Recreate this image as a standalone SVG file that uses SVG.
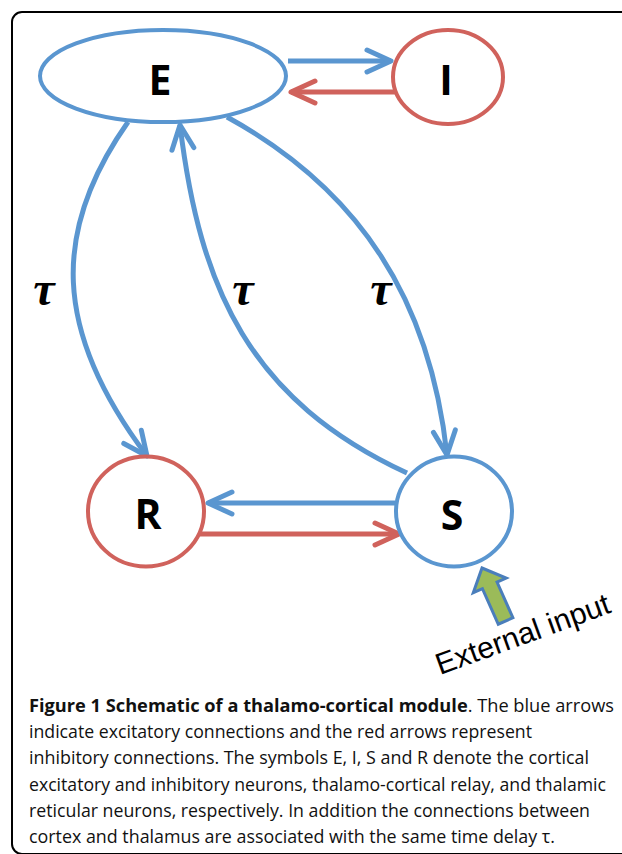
<svg xmlns="http://www.w3.org/2000/svg" width="622" height="854" viewBox="0 0 622 854">
<style>
.bl{fill:none;stroke:#5a96d0;stroke-width:4}
.rd{fill:none;stroke:#d0625c;stroke-width:4}
.cb{fill:none;stroke:#5a96d0;stroke-width:5}
.cr{fill:none;stroke:#d0625c;stroke-width:5}
.lbl{font-family:"Open Sans","Liberation Sans",sans-serif;font-weight:bold;font-size:41px;fill:#000;text-anchor:middle}
.tau{font-family:"Liberation Serif",serif;font-weight:bold;font-style:italic;font-size:48px;fill:#000;text-anchor:middle}
.cap{font-family:"Open Sans","Liberation Sans",sans-serif;font-size:18.5px;fill:#111}
</style>
<defs>
<marker id="mb" markerUnits="userSpaceOnUse" markerWidth="40" markerHeight="40" viewBox="-35 -20 40 40" refX="0" refY="0" orient="auto" overflow="visible">
<path d="M-24,-11 L0,0 L-24,11" fill="none" stroke="#5a96d0" stroke-width="5" stroke-linecap="round" stroke-linejoin="round"/>
</marker>
<marker id="mr" markerUnits="userSpaceOnUse" markerWidth="40" markerHeight="40" viewBox="-35 -20 40 40" refX="0" refY="0" orient="auto" overflow="visible">
<path d="M-24,-11 L0,0 L-24,11" fill="none" stroke="#d0625c" stroke-width="5" stroke-linecap="round" stroke-linejoin="round"/>
</marker>
</defs>
<rect x="0" y="0" width="622" height="854" fill="#fff"/>
<path id="frame" d="M630,854 L22,854 A10,10 0 0 1 12,844 L12,22 A10,10 0 0 1 22,12 L630,12" fill="none" stroke="#000" stroke-width="2"/>

<g id="connectors">
<path class="cb" d="M288,61 L391,61" marker-end="url(#mb)"/>
<path class="cr" d="M395,92 L291,92" marker-end="url(#mr)"/>
<path class="cb" d="M395,503 L208,503" marker-end="url(#mb)"/>
<path class="cr" d="M200,534 L399,534" marker-end="url(#mr)"/>
<path class="cb" d="M128,122 C52,230 52,330 147,456" marker-end="url(#mb)"/>
<path class="cb" d="M407,473 C250,400 200,290 180,125" marker-end="url(#mb)"/>
<path class="cb" d="M227,117 C360,190 430,300 447,455" marker-end="url(#mb)"/>
</g>

<g id="node-E">
<ellipse class="bl" cx="163" cy="76" rx="123" ry="46"/>
<text class="lbl" x="160" y="95">E</text>
</g>
<g id="node-I">
<ellipse class="rd" cx="448" cy="77" rx="55" ry="47"/>
<text class="lbl" x="446" y="95">I</text>
</g>
<g id="node-R">
<ellipse class="rd" cx="146" cy="511.5" rx="58" ry="55"/>
<text class="lbl" x="148" y="529">R</text>
</g>
<g id="node-S">
<ellipse class="bl" cx="454" cy="511.5" rx="58" ry="55"/>
<text class="lbl" x="452" y="530">S</text>
</g>

<g id="delays">
<text class="tau" x="44" y="305">τ</text>
<text class="tau" x="243" y="305">τ</text>
<text class="tau" x="381" y="305">τ</text>
</g>

<g id="external-input">
<path transform="translate(482,568) rotate(-24)" d="M0,0 L18,19 L8,19 L8,58 L-8,58 L-8,19 L-18,19 Z" fill="#9bbb59" stroke="#4a7ebb" stroke-width="3" stroke-linejoin="miter"/>
<text transform="translate(440,675) rotate(-20)" font-family="Liberation Sans, Arial, sans-serif" font-size="30" fill="#000">External input</text>
</g>

<g id="caption">
<text class="cap" x="29" y="712" textLength="585" lengthAdjust="spacingAndGlyphs"><tspan font-weight="bold">Figure 1 Schematic of a thalamo-cortical module</tspan>. The blue arrows</text>
<text class="cap" x="29" y="738" textLength="503" lengthAdjust="spacingAndGlyphs">indicate excitatory connections and the red arrows represent</text>
<text class="cap" x="29" y="764" textLength="560" lengthAdjust="spacingAndGlyphs">inhibitory connections. The symbols E, I, S and R denote the cortical</text>
<text class="cap" x="29" y="791" textLength="577" lengthAdjust="spacingAndGlyphs">excitatory and inhibitory neurons, thalamo-cortical relay, and thalamic</text>
<text class="cap" x="29" y="817" textLength="561" lengthAdjust="spacingAndGlyphs">reticular neurons, respectively. In addition the connections between</text>
<text class="cap" x="29" y="843" textLength="526" lengthAdjust="spacingAndGlyphs">cortex and thalamus are associated with the same time delay τ.</text>
</g>
</svg>
